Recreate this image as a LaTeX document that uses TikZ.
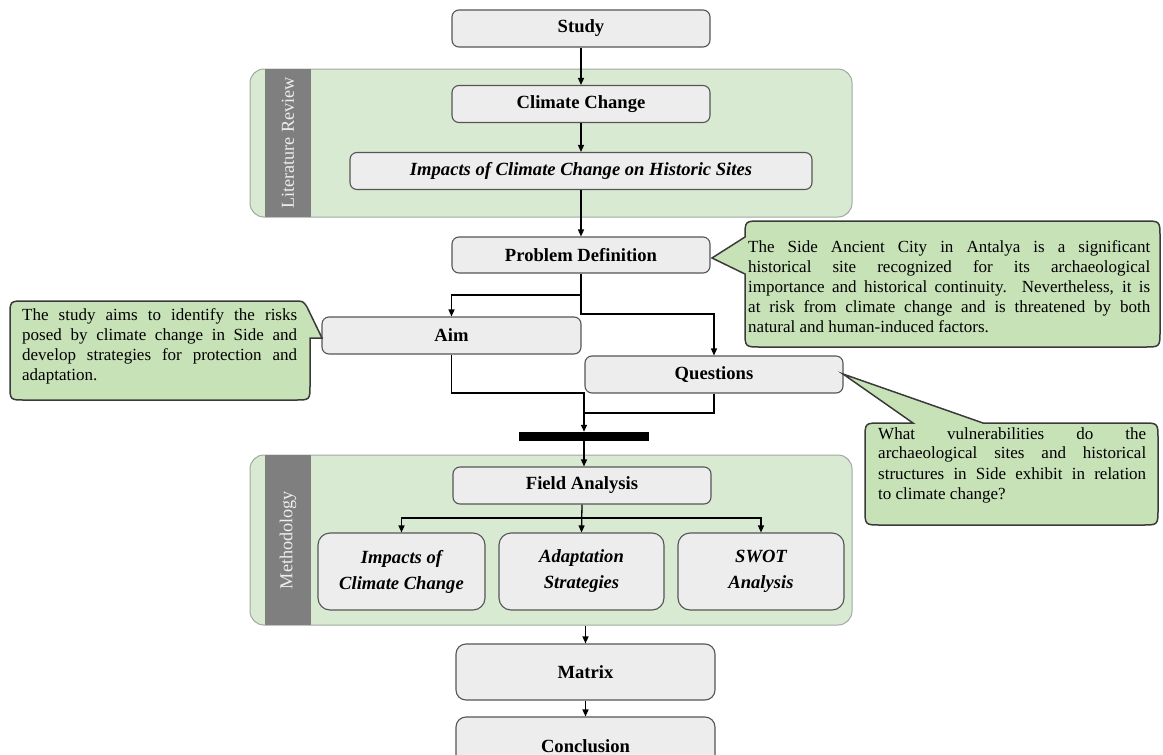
\documentclass[tikz,border=0pt]{standalone}
\usepackage{fontspec}
\setmainfont{Liberation Serif}
\usetikzlibrary{arrows.meta,calc}
\definecolor{grpfill}{HTML}{D9EAD3}
\definecolor{grpline}{HTML}{A0A8A0}
\definecolor{barcol}{HTML}{7F7F7F}
\definecolor{labeltext}{HTML}{EEEEEE}
\definecolor{boxfill}{HTML}{EDEDED}
\definecolor{boxline}{HTML}{555555}
\definecolor{callfill}{HTML}{C8E2B8}
\definecolor{callline}{HTML}{3A3A3A}
\newcommand{\tfont}{\fontsize{18.6}{26}\selectfont}
\newcommand{\cfont}{\fontsize{17}{20}\selectfont\tolerance=9999\hbadness=10000\relax}
\newcommand{\lfont}{\fontsize{18.2}{20}\selectfont}
\begin{document}
\begin{tikzpicture}[x=1pt,y=-1pt,
  box/.style={draw=boxline,fill=boxfill,line width=1.1pt,rounded corners=7pt,inner sep=0pt,align=center,font=\tfont\bfseries},
  grp/.style={draw=grpline,fill=grpfill,line width=1pt,rounded corners=14pt,inner sep=0pt},
  grplabel/.style={rotate=90,text=labeltext,font=\lfont,inner sep=0pt},
  conn/.style={line width=1.3pt,draw=black},
  arr/.style={conn,-{Triangle[length=7pt,width=6pt]}},
  callout/.style={draw=callline,fill=callfill,line width=1.5pt},
  calltext/.style={inner sep=0pt,align=justify,font=\cfont,anchor=north west}]
\useasboundingbox (0,0) rectangle (1163,755);
\clip (0,0) rectangle (1163,755);

% groups
\node[grp,minimum width=602pt,minimum height=148pt] (lr) at (551,143) {};
\fill[barcol] (265,69) rectangle (311,217);
\node[grplabel] (lrlabel) at (288,143) {Literature Review};
\node[grp,minimum width=602pt,minimum height=170pt] (meth) at (551,540) {};
\fill[barcol] (265,455) rectangle (311,625);
\node[grplabel] (methlabel) at (288,540) {Methodology};

% boxes
\node[box,minimum width=258pt,minimum height=37pt] (study) at (581,28.5) {Study};
\node[box,minimum width=258pt,minimum height=37pt] (cc) at (581,104) {Climate Change};
\node[box,minimum width=462pt,minimum height=37pt] (imp) at (581,171) {\itshape Impacts of Climate Change on Historic Sites};
\node[box,minimum width=258pt,minimum height=36pt] (pd) at (581,255) {Problem Definition};
\node[box,minimum width=259pt,minimum height=37pt] (aim) at (451.5,335.5) {Aim};
\node[box,minimum width=258pt,minimum height=37pt] (q) at (714,374.5) {Questions};
\node[fill=black,minimum width=130pt,minimum height=9pt,inner sep=0pt] (bar) at (584,436.5) {};
\node[box,minimum width=258pt,minimum height=37pt] (fa) at (582,485.5) {Field Analysis};
\node[box,minimum width=167pt,minimum height=77pt,rounded corners=12pt] (b1) at (401.5,571.5) {\itshape Impacts of\\\itshape Climate Change};
\node[box,minimum width=165pt,minimum height=77pt,rounded corners=12pt] (b2) at (581.5,571.5) {\itshape Adaptation\\\itshape Strategies};
\node[box,minimum width=166pt,minimum height=77pt,rounded corners=12pt] (b3) at (761,571.5) {\itshape SWOT\\\itshape Analysis};
\node[box,minimum width=259pt,minimum height=56pt,rounded corners=10pt] (mx) at (585.5,672) {Matrix};
\node[box,minimum width=259pt,minimum height=58pt,rounded corners=10pt] (concl) at (585.5,746) {Conclusion};

% connectors
\coordinate (j1) at (581,295);
\coordinate (j2) at (581,314);
\coordinate (j3) at (584,393);
\coordinate (j4) at (584,413);
\coordinate (j5) at (582,518);
\draw[arr] (study.south) -- (cc.north);
\draw[arr] (cc.south) -- (imp.north);
\draw[arr] (imp.south) -- (pd.north);
\draw[arr] (pd.south) -- (j1) -| (aim.north);
\draw[arr] (j1) -- (j2) -| (q.north);
\draw[arr] (aim.south) |- (j3) -- (bar.north);
\draw[conn] (q.south) |- (j4);
\draw[arr] (bar.south) -- (bar.south |- fa.north);
\draw[arr] (fa.south) -- (b2.north);
\draw[arr] (j5) -| (b1.north);
\draw[arr] (j5) -| (b3.north);
\draw[arr] (mx.north |- meth.south) -- (mx.north);
\draw[arr] (mx.south) -- (concl.north);

% callouts
\draw[callout] (712,258) -- (745,274) -- (745,331) .. controls (745,347) .. (761,347) -- (1144,347) .. controls (1160,347) .. (1160,331) -- (1160,237) .. controls (1160,221) .. (1144,221) -- (761,221) .. controls (745,221) .. (745,237) -- cycle;
\node[calltext,text width=402pt] (t1) at (748,240) {The Side Ancient City in Antalya is a significant\linebreak historical site recognized for its archaeological\linebreak importance and historical continuity. Nevertheless, it is\linebreak at risk from climate change and is threatened by both\linebreak natural and human-induced factors.};

\draw[callout] (322,338) -- (310,338) -- (310,385) .. controls (310,400) .. (295,400) -- (25,400) .. controls (10,400) .. (10,385) -- (10,316) .. controls (10,301) .. (25,301) -- (294,301) .. controls (303,301) .. (307,307) -- cycle;
\node[calltext,text width=275pt] (t2) at (22,308) {The study aims to identify the risks\linebreak posed by climate change in Side and\linebreak develop strategies for protection and\linebreak adaptation.};

\draw[callout] (843,374) -- (983,423) -- (1142,423) .. controls (1158,423) .. (1158,439) -- (1158,509) .. controls (1158,525) .. (1142,525) -- (881,525) .. controls (865,525) .. (865,509) -- (865,439) .. controls (865,423) .. (881,423) -- (913,423) -- cycle;
\node[calltext,text width=268pt] (t3) at (878,427) {What vulnerabilities do the\linebreak archaeological sites and historical\linebreak structures in Side exhibit in relation\linebreak to climate change?};
\end{tikzpicture}
\end{document}
